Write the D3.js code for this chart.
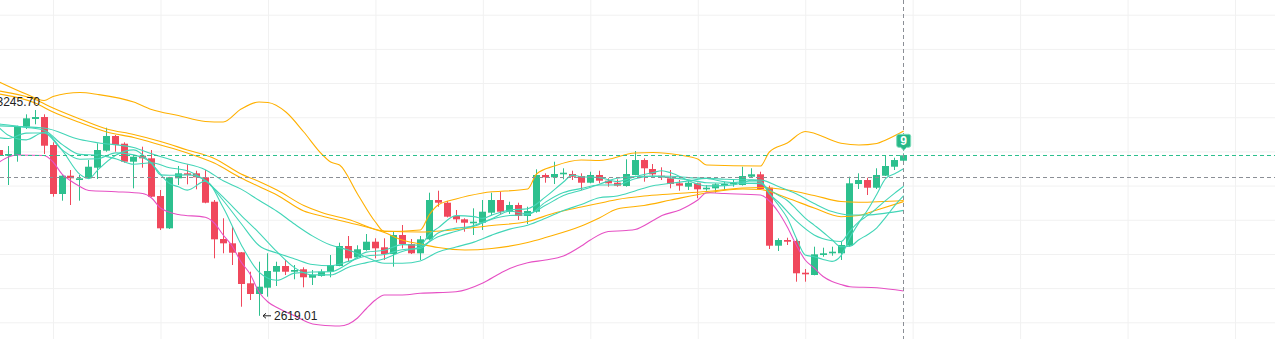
<!DOCTYPE html>
<html>
<head>
<meta charset="utf-8">
<script src="https://cdn.jsdelivr.net/npm/d3@7"></script>
<style>
  html, body { margin: 0; padding: 0; background: #fff; overflow: hidden; }
  svg { display: block; font-family: "Helvetica Neue", Arial, "Liberation Sans", sans-serif; }
</style>
</head>
<body>
<svg id="chart" width="1275" height="339"></svg>
<script>
// ---- candles (daily index, first bar sits at index -3) ----
const firstIndex = -3;
const opens = [3190.0,3212.4,3104.1,
  3087.4,3089.5,3172.3,3194.8,3200.6,3118.7,2975.4,3028.9,3016.3,3021.3,
  3052.3,3102.1,3145.1,3122.5,3069.9,3087.4,3079.8,2969.5,2875.0,3021.3,
  3035.9,3035.9,3024.2,2952.8,2843.7,2831.1,2804.8,2714.1,2682.8,2701.2,
  2748.0,2764.7,2748.0,2755.1,2730.5,2735.5,2748.0,2764.7,2823.2,2790.2,
  2811.5,2835.8,2819.4,2799.8,2855.4,2829.1,2801.9,2842.8,2957.8,2949.9,
  2911.0,2901.3,2889.6,2891.4,2920.7,2957.8,2923.6,2943.2,2911.0,2923.6,
  3031.0,3024.2,3033.0,3033.9,3028.0,3008.4,3031.0,3014.3,3008.4,2998.8,
  3031.0,3074.8,3048.5,3028.9,3021.3,3006.7,2996.7,3006.7,2989.1,2992.0,
  2999.7,3003.7,3001.7,3026.0,3033.0,2993.8,2824.1,2840.8,2837.9,2745.1,
  2738.4,2796.9,2801.9,2801.9,2824.1,3004.6,3016.3,2993.8,3028.9,3055.2,
  3072.8];
const highs = [3245.70,3228.6,3112.5,
  3115.8,3175.2,3208.5,3221.1,3208.5,3126.6,3030.5,3045.6,3031.0,3074.8,
  3123.7,3169.3,3148.0,3126.6,3086.0,3113.8,3104.1,2987.1,3025.5,3057.3,
  3062.3,3043.5,3045.6,2957.8,2904.3,2881.7,2805.7,2748.0,2777.3,2801.9,
  2777.3,2782.3,2767.6,2760.9,2753.0,2755.1,2796.9,2832.9,2852.5,2825.3,
  2858.3,2845.8,2845.8,2865.1,2884.7,2843.7,2852.5,2979.2,2985.0,2955.0,
  2928.6,2904.3,2933.5,2957.8,2979.2,2982.1,2952.8,2949.9,2938.2,3047.6,
  3035.9,3069.9,3050.6,3043.5,3035.9,3040.6,3043.5,3021.3,3018.4,3076.9,
  3101.2,3079.8,3063.1,3053.5,3045.6,3016.3,3016.3,3008.4,3001.7,3006.7,
  3011.4,3018.4,3055.2,3050.6,3040.6,2999.7,2845.8,2847.5,2845.8,2755.9,
  2821.2,2818.3,2821.2,2835.8,3026.0,3035.9,3023.1,3050.6,3087.4,3081.6,
  3094.4];
const lows = [3180.2,3108.8,3080.2,
  3001.7,3069.9,3165.5,3179.3,3092.4,2967.5,2955.8,2943.2,2955.8,3019.5,
  3019.2,3099.1,3099.1,3067.0,2992.0,3052.3,2966.6,2870.0,2873.0,3001.7,
  3003.7,2989.1,2948.2,2787.2,2801.9,2767.6,2645.6,2665.2,2619.01,2674.9,
  2706.2,2738.4,2725.8,2702.4,2709.1,2733.4,2731.7,2764.0,2777.3,2789.0,
  2809.5,2787.2,2782.3,2762.7,2816.5,2799.8,2782.3,2841.0,2938.2,2907.0,
  2891.4,2865.1,2855.4,2870.0,2913.9,2916.9,2916.9,2899.3,2887.6,2920.7,
  3008.4,3004.6,3018.4,3016.3,2987.1,3006.7,3006.7,2996.7,2996.7,2996.7,
  3030.0,3011.4,3023.1,3016.3,2992.0,2985.0,2987.1,2962.8,2985.0,2979.2,
  2987.1,2996.7,3000.0,3025.0,2987.1,2814.5,2808.6,2826.2,2718.8,2718.8,
  2737.5,2791.9,2794.9,2782.3,2821.2,2990.0,2972.4,2990.0,3028.0,3045.6,
  3068.1];
const closes = [3215.5,3120.3,3087.4,
  3092.4,3172.3,3196.8,3200.6,3116.7,2975.4,3028.9,3021.3,3021.3,3055.2,
  3104.1,3145.1,3118.7,3069.9,3084.5,3079.8,2967.5,2875.0,3024.2,3035.9,
  3031.0,3024.2,2949.9,2842.8,2831.1,2803.6,2712.1,2682.8,2704.2,2750.1,
  2764.7,2748.0,2753.0,2731.7,2738.4,2748.0,2767.6,2823.2,2787.2,2813.6,
  2835.8,2816.5,2799.8,2855.4,2829.1,2801.9,2842.8,2957.8,2949.9,2909.0,
  2901.3,2891.4,2894.3,2923.6,2957.8,2923.6,2943.2,2911.0,2925.6,3031.0,
  3024.2,3033.9,3037.7,3026.0,3008.4,3031.0,3014.3,3006.7,2999.7,3033.9,
  3074.8,3050.6,3033.0,3024.2,3004.6,2999.7,3008.4,2989.1,2993.8,3003.7,
  3004.6,3008.4,3028.0,3033.0,2990.0,2824.1,2840.8,2835.8,2743.4,2740.4,
  2798.9,2801.9,2806.6,2826.2,3006.7,3016.3,2993.8,3031.0,3057.3,3074.8,
  3088.6];

// ---- grid ticks ----
const priceTicks = [2600, 2700, 2800, 2900, 3000, 3100, 3200, 3300, 3400, 3500];
const timeTicks = [5, 17, 29, 41, 53, 65, 77, 89, 101, 113, 125, 137];

// ---- indicator lines: [bar index, price] ----
const ma5 = [[-1,3168.5],[0,3147.4],[2,3133.9],[4,3155.9],[6,3103.8],[8,3032.7],[9,3020.4],[10,3046.2],
  [12,3088.9],[14,3104.4],[16,3064.0],[18,3006.1],[19,2996.4],[20,2986.8],[22,3013.1],[24,2935.9],
  [26,2827.9],[28,2746.9],[30,2722.9],[32,2743.9],[34,2747.2],[36,2747.7],[38,2772.9],[40,2805.4],
  [42,2810.7],[44,2827.3],[46,2825.9],[47,2857.5],[48,2876.2],[50,2912.2],[52,2909.2],[53,2904.0],
  [54,2913.6],[56,2928.6],[58,2932.4],[60,2966.9],[62,3010.5],[63,3030.7],[64,3026.0],[66,3023.4],
  [68,3011.9],[70,3026.0],[72,3038.3],[73,3043.2],[74,3037.4],[76,3014.0],[78,2999.1],[80,2999.9],
  [82,3007.8],[83,3015.5],[84,3012.8],[85,2976.8],[86,2943.2],[87,2904.9],[88,2846.9],[89,2796.9],
  [90,2791.9],[91,2784.0],[92,2778.2],[93,2794.9],[94,2848.1],[95,2891.4],[96,2930.0],[97,2974.8],
  [98,3021.0],[99,3034.8],[100,3049.4]];
const ma10 = [[-1,3180.0],[0,3177.2],[2,3170.2],[4,3162.0],[6,3120.5],[8,3091.2],[10,3089.2],[12,3078.6],
  [14,3062.3],[16,3066.7],[18,3052.3],[20,3043.2],[22,3014.3],[24,2966.0],[26,2913.1],[28,2861.9],
  [30,2806.6],[32,2759.2],[34,2738.7],[36,2738.7],[38,2761.2],[40,2774.7],[42,2786.1],[44,2807.4],
  [46,2820.6],[48,2850.1],[50,2866.2],[52,2883.2],[54,2902.8],[56,2925.0],[58,2918.0],[60,2942.3],
  [62,2971.0],[64,2986.5],[66,3004.0],[68,3021.3],[70,3026.6],[72,3027.7],[74,3027.2],[76,3023.4],
  [78,3021.0],[80,3011.1],[82,3006.4],[84,3005.8],[85,2988.2],[86,2971.6],[87,2956.4],[88,2931.2],
  [89,2904.9],[90,2884.4],[91,2863.6],[92,2841.4],[93,2820.9],[94,2822.4],[95,2841.7],[96,2856.9],
  [97,2876.5],[98,2907.8],[99,2941.4],[100,2970.4]];
const ema10 = [[-1,3140.0],[0,3137.7],[2,3153.5],[4,3153.8],[6,3104.7],[8,3077.2],[10,3078.6],[12,3095.6],
  [14,3089.8],[16,3066.1],[17,3031.3],[18,3030.1],[20,3031.3],[22,3015.5],[24,2956.4],[26,2889.1],
  [28,2824.7],[30,2802.8],[32,2785.5],[34,2769.1],[36,2765.6],[38,2778.2],[40,2794.0],[42,2798.4],
  [44,2812.4],[46,2816.2],[48,2861.6],[50,2875.6],[52,2881.5],[54,2901.6],[56,2912.5],[58,2914.5],
  [60,2951.7],[62,2979.5],[64,2991.8],[66,3001.7],[68,3002.0],[70,3020.1],[72,3027.2],[74,3022.5],
  [76,3016.6],[78,3008.4],[80,3007.0],[82,3011.1],[84,3010.5],[85,2976.5],[86,2952.0],[88,2896.7],
  [90,2855.7],[92,2838.7],[93,2836.4],[94,2867.4],[95,2894.6],[96,2912.8],[97,2934.1],[98,2956.6],
  [99,2978.0],[100,2998.2]];
const bollMid = [[-1,3174.9],[4,3168.5],[8,3134.8],[10,3125.2],[14,3111.4],[16,3093.0],[19,3069.0],
  [22,3046.5],[24,3014.0],[26,2989.7],[28,2956.9],[30,2924.8],[32,2886.7],[34,2852.2],[36,2825.9],
  [38,2811.5],[40,2790.5],[42,2772.6],[44,2772.9],[46,2779.6],[48,2805.7],[50,2820.3],[52,2834.6],
  [54,2855.1],[56,2872.7],[58,2884.1],[60,2904.3],[62,2927.1],[64,2944.6],[66,2964.5],[68,2969.5],
  [70,2984.4],[72,2999.4],[74,3006.7],[76,3013.7],[78,3021.0],[80,3018.7],[82,3016.9],[84,3016.3],
  [86,2997.3],[88,2976.0],[90,2947.6],[92,2923.9],[94,2913.9],[96,2914.2],[98,2919.5],[100,2927.4]];
const bollUp = [[-1,3303.0],[2,3267.9],[4,3248.9],[5,3260.6],[8,3272.3],[10,3266.5],[14,3244.5],[16,3222.6],
  [19,3205.0],[22,3187.5],[24,3186.0],[26,3224.0],[28,3244.5],[29,3243.1],[31,3215.3],[33,3156.8],
  [35,3092.4],[36,3069.0],[37,3060.2],[39,2975.4],[41,2893.4],[42,2865.6],[46,2870.0],[47,2914.0],
  [48,2943.2],[50,2960.8],[53,2978.3],[58,2990.0],[59,3033.9],[61,3057.3],[64,3074.8],[66,3073.4],
  [70,3095.3],[72,3096.8],[75,3089.4],[77,3077.8],[78,3060.2],[84,3057.3],[85,3098.3],[87,3124.6],
  [89,3158.2],[93,3123.7],[95,3118.7],[97,3123.1],[98,3133.4],[100,3159.7]];
const bollDn = [[-1,3069.0],[0,3083.6],[1,3089.5],[4,3088.0],[5,3069.0],[6,3033.9],[7,3013.4],[8,2997.3],
  [9,2985.6],[12,2982.1],[15,2976.8],[16,2963.7],[17,2934.4],[19,2915.4],[22,2907.2],[23,2890.5],
  [24,2855.4],[25,2823.2],[26,2776.4],[27,2741.3],[28,2688.6],[29,2659.4],[30,2643.3],[32,2618.4],
  [34,2595.0],[36,2589.8],[37,2589.2],[38,2595.0],[39,2612.6],[40,2640.4],[41,2665.2],[42,2679.9],
  [44,2679.9],[46,2684.8],[50,2689.5],[53,2715.0],[55,2744.2],[56,2757.4],[58,2774.4],[60,2782.3],
  [62,2793.9],[64,2823.2],[65,2840.8],[67,2865.7],[69,2868.6],[70,2871.5],[72,2897.8],[73,2912.4],
  [75,2928.5],[76,2941.7],[77,2957.8],[78,2979.1],[80,2976.8],[84,2972.4],[85,2954.9],[86,2922.7],
  [87,2878.8],[88,2826.2],[89,2782.3],[90,2758.9],[91,2734.0],[92,2719.4],[93,2710.6],[94,2704.1],
  [97,2701.2],[100,2691.6]];
const ma30 = [[-1,3267.9],[3,3241.6],[5,3215.3],[8,3184.6],[11,3156.8],[14,3140.7],[17,3118.7],[20,3095.3],
  [23,3066.0],[26,3022.2],[28,2997.3],[30,2972.4],[33,2925.6],[35,2911.0],[38,2892.0],[42,2862.7],
  [44,2840.8],[46,2829.1],[48,2818.8],[51,2811.5],[54,2815.9],[58,2833.5],[60,2848.1],[64,2881.7],
  [66,2905.2],[68,2931.5],[71,2941.7],[74,2957.8],[78,2978.3],[82,2990.0],[84,2988.5],[87,2963.7],
  [90,2934.4],[93,2909.0],[95,2912.4],[97,2928.5],[100,2953.4]];
const ma60 = [[-1,3276.7],[3,3251.8],[5,3227.0],[8,3194.8],[11,3165.5],[14,3149.5],[17,3129.0],[20,3104.1],
  [23,3079.2],[26,3033.9],[28,3012.0],[30,2987.1],[33,2941.7],[35,2921.2],[38,2900.8],[42,2867.1],
  [46,2864.2],[49,2868.6],[54,2883.2],[58,2894.9],[61,2919.8],[64,2937.3],[66,2948.2],[68,2959.3],
  [71,2969.5],[74,2975.4],[78,2982.7],[82,2992.9],[84,2994.4],[87,2987.1],[90,2971.0],[93,2953.4],
  [95,2951.1],[100,2956.4]];

// ---- crosshair and signal marker ----
const crosshairIndex = 100;
const crosshairPrice = 3024.2;
const markerIndex = [100];
const markerText = ["9"];

// ---- styling ----
const W = 1275, H = 339;
const UP = "#2DC08E", DOWN = "#F0485C";
const TEAL = "#42D5B7", ORANGE = "#FFB000", PINK = "#E650C4";
const GRID = "#f1f1f1";

const svg = d3.select("#chart");
const x = d3.scaleLinear().domain([0, 100]).range([8.3, 903.7]);
const y = d3.scaleLinear().domain([2600, 3500]).range([322.3, 14.7]);

// grid via axes
svg.append("g")
  .call(d3.axisRight(y).tickValues(priceTicks).tickSize(W).tickFormat(""))
  .call(g => g.select(".domain").remove())
  .call(g => g.selectAll("line").attr("stroke", GRID));
svg.append("g")
  .call(d3.axisBottom(x).tickValues(timeTicks).tickSize(H).tickFormat(""))
  .call(g => g.select(".domain").remove())
  .call(g => g.selectAll("line").attr("stroke", GRID));

// candles
const bars = opens.map((o, k) => ({
  i: firstIndex + k, o, h: highs[k], l: lows[k], c: closes[k]
}));
const cg = svg.append("g");
bars.forEach(d => {
  const cx = x(d.i);
  const col = d.c >= d.o ? UP : DOWN;
  const wx = Math.floor(cx) + 0.5;
  cg.append("line")
    .attr("x1", wx).attr("x2", wx)
    .attr("y1", y(d.h)).attr("y2", y(d.l))
    .attr("stroke", col).attr("stroke-width", 1);
  const top = y(Math.max(d.o, d.c)), bot = y(Math.min(d.o, d.c));
  cg.append("rect")
    .attr("x", Math.floor(cx) - 3).attr("width", 7)
    .attr("y", top).attr("height", Math.max(1, bot - top))
    .attr("fill", col);
});

// indicator lines
const line = d3.line().x(d => x(d[0])).y(d => y(d[1])).curve(d3.curveMonotoneX);
const series = [
  [ma60, ORANGE], [ma30, ORANGE], [bollUp, ORANGE], [bollDn, PINK],
  [bollMid, TEAL], [ema10, TEAL], [ma10, TEAL], [ma5, TEAL]
];
const lg = svg.append("g").attr("fill", "none").attr("stroke-width", 1.1)
  .attr("stroke-linejoin", "round");
series.forEach(([pts, col]) => {
  lg.append("path").attr("d", line(pts)).attr("stroke", col);
});

// last price line
const lastClose = closes[closes.length - 1];
svg.append("line")
  .attr("x1", 0).attr("x2", W)
  .attr("y1", Math.round(y(lastClose)) + 0.5).attr("y2", Math.round(y(lastClose)) + 0.5)
  .attr("stroke", UP).attr("stroke-dasharray", "4 3");

// crosshair
const chx = Math.floor(x(crosshairIndex)) + 0.5;
const chy = Math.round(y(crosshairPrice)) + 0.5;
svg.append("line").attr("x1", 0).attr("x2", W).attr("y1", chy).attr("y2", chy)
  .attr("stroke", "#8b8f96").attr("stroke-dasharray", "4 3");
svg.append("line").attr("x1", chx).attr("x2", chx).attr("y1", 0).attr("y2", H)
  .attr("stroke", "#8b8f96").attr("stroke-dasharray", "4 3");

// highest / lowest price marks
function priceMark(idx, price) {
  const cx = x(idx), cy = y(price);
  const g = svg.append("g");
  g.append("path")
    .attr("d", `M${cx + 4},${cy}H${cx + 12}M${cx + 4},${cy}L${cx + 7},${cy - 2.5}M${cx + 4},${cy}L${cx + 7},${cy + 2.5}`)
    .attr("stroke", "#222").attr("fill", "none").attr("stroke-width", 1);
  g.append("text")
    .attr("x", cx + 15).attr("y", cy)
    .attr("dominant-baseline", "central")
    .attr("font-size", 12).attr("fill", "#222")
    .text(price.toFixed(2));
}
const hiK = d3.maxIndex(highs), loK = d3.minIndex(lows);
priceMark(firstIndex + hiK, highs[hiK]);
priceMark(firstIndex + loK, lows[loK]);

// signal marker above the bar
markerIndex.forEach((mi, n) => {
  const mx = x(mi);
  const tip = y(highs[mi - firstIndex]) - 3;
  const bw = 14, bh = 13;
  const by = tip - 3 - bh;
  const g = svg.append("g");
  g.append("path")
    .attr("d", `M${mx - bw / 2 + 2},${by}H${mx + bw / 2 - 2}Q${mx + bw / 2},${by} ${mx + bw / 2},${by + 2}V${by + bh - 2}Q${mx + bw / 2},${by + bh} ${mx + bw / 2 - 2},${by + bh}H${mx + 3}L${mx},${tip}L${mx - 3},${by + bh}H${mx - bw / 2 + 2}Q${mx - bw / 2},${by + bh} ${mx - bw / 2},${by + bh - 2}V${by + 2}Q${mx - bw / 2},${by} ${mx - bw / 2 + 2},${by}Z`)
    .attr("fill", "#27b887").attr("stroke", "#7fdcbc").attr("stroke-width", 1);
  g.append("text")
    .attr("x", mx).attr("y", by + bh / 2 + 0.5)
    .attr("text-anchor", "middle").attr("dominant-baseline", "central")
    .attr("font-size", 12).attr("font-weight", "bold").attr("fill", "#fff")
    .text(markerText[n]);
});
</script>
</body>
</html>
